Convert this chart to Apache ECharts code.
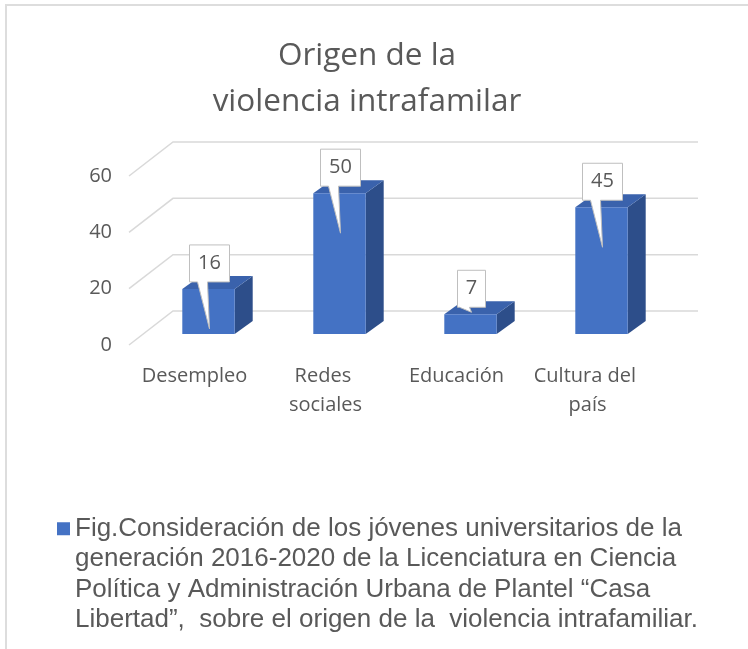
<!DOCTYPE html>
<html>
<head>
<meta charset="utf-8">
<script src="https://cdn.jsdelivr.net/npm/echarts@6/dist/echarts.min.js"></script>
<style>
html, body { margin: 0; padding: 0; background: #fff; }
#chart { width: 748px; height: 649px; }
</style>
</head>
<body>
<div id="chart"></div>
<script>
// datos del grafico
var categories = ['Desempleo', 'Redes sociales', 'Educación', 'Cultura del país'];
var values = [16, 50, 7, 45];
var yTicks = [0, 20, 40, 60];
var legendLines = [
    'Fig.Consideración de los jóvenes universitarios de la',
    'generación 2016-2020 de la Licenciatura en Ciencia',
    'Política y Administración Urbana de Plantel “Casa',
    'Libertad”,  sobre el origen de la  violencia intrafamiliar.'
];
var seriesName = legendLines.join(' ');

var frontColor = '#4472C4', topColor = '#3A62AC', sideColor = '#2D4E8A';
var textColor = '#595959';

var chart = echarts.init(document.getElementById('chart'));

// lineas de la cuadricula en perspectiva
function renderGrid(params, api) {
    var y = api.coord([0, api.value(1)])[1];
    var x0 = params.coordSys.x, x1 = x0 + params.coordSys.width;
    return {
        type: 'polyline',
        shape: { points: [[x0 - 14, y + 11], [x0 + 30, y - 23], [x1 + 31, y - 23]] },
        style: { stroke: '#d9d9d9', lineWidth: 1.5, fill: null }
    };
}

// barras 3D con etiqueta tipo globo
function renderBar(params, api) {
    var v = api.value(1);
    var top = api.coord([api.value(0), v]);
    var base = api.coord([api.value(0), 0]);
    var w = api.size([1, 0])[0] * 0.4;
    var l = top[0] - w / 2, r = top[0] + w / 2, t = top[1], b = base[1];
    var dx = 18, dy = -13;
    var label = String(v);
    var bw = label.length > 1 ? 40 : 28, bh = 37;
    var cx = top[0] + 1;
    var bb = t - 7, bt = bb - bh;
    var tip = (b - t) > 30 ? t + 40 : t - 2;
    return {
        type: 'group',
        children: [
            { type: 'polygon', shape: { points: [[r, t], [r + dx, t + dy], [r + dx, b + dy], [r, b]] }, style: { fill: sideColor } },
            { type: 'polygon', shape: { points: [[l, t], [l + dx, t + dy], [r + dx, t + dy], [r, t]] }, style: { fill: topColor } },
            { type: 'rect', shape: { x: l, y: t, width: w, height: b - t }, style: { fill: frontColor } },
            {
                type: 'polygon',
                shape: { points: [[cx - bw / 2, bt], [cx + bw / 2, bt], [cx + bw / 2, bb], [cx - 2, bb], [cx, tip], [cx - 12, bb], [cx - bw / 2, bb]] },
                style: { fill: '#fff', stroke: '#bfbfbf', lineWidth: 1 }
            },
            {
                type: 'text', x: cx, y: (bt + bb) / 2,
                style: { text: label, align: 'center', verticalAlign: 'middle', fontFamily: 'Open Sans', fontSize: 20, fill: textColor }
            }
        ]
    };
}

var option = {
    backgroundColor: '#fff',
    animation: false,
    title: {
        text: 'Origen de la\nviolencia intrafamilar',
        left: 367,
        top: 33,
        padding: 0,
        textAlign: 'center',
        textStyle: { fontFamily: 'Open Sans', fontSize: 31.5, fontWeight: 'normal', color: textColor, lineHeight: 46 }
    },
    legend: {
        data: [seriesName],
        left: 57,
        top: 422,
        padding: 0,
        icon: 'rect',
        itemWidth: 13,
        itemHeight: 13,
        itemGap: 0,
        selectedMode: false,
        // tres lineas vacias para que el cuadro quede junto a la primera linea
        formatter: function () { return '\n\n\n' + legendLines.join('\n'); },
        textStyle: { fontFamily: 'Liberation Sans', fontSize: 26, lineHeight: 30.5, color: textColor }
    },
    graphic: [{
        type: 'rect',
        shape: { x: 6, y: 5, width: 800, height: 700 },
        style: { fill: null, stroke: '#dddddd', lineWidth: 2 },
        silent: true
    }],
    grid: { left: 143, right: 81, top: 165, bottom: 315 },
    xAxis: {
        type: 'category',
        data: categories,
        axisLine: { show: false },
        axisTick: { show: false },
        axisLabel: {
            interval: 0,
            margin: 28,
            fontFamily: 'Open Sans',
            fontSize: 20,
            lineHeight: 29,
            color: textColor,
            width: 118,
            overflow: 'break',
            padding: [0, 28, 0, 0]
        }
    },
    yAxis: {
        type: 'value',
        min: 0,
        max: 60,
        interval: 20,
        axisLine: { show: false },
        axisTick: { show: false },
        splitLine: { show: false },
        axisLabel: {
            margin: 31,
            fontFamily: 'Open Sans',
            fontSize: 20,
            color: textColor,
            verticalAlign: 'top',
            lineHeight: 22
        }
    },
    series: [
        {
            type: 'custom',
            name: 'grid',
            renderItem: renderGrid,
            clip: false,
            silent: true,
            z: 1,
            data: yTicks.map(function (t) { return [0, t]; })
        },
        {
            type: 'custom',
            name: seriesName,
            renderItem: renderBar,
            clip: false,
            z: 3,
            itemStyle: { color: frontColor },
            data: values.map(function (v, i) { return [i, v]; })
        }
    ]
};

chart.setOption(option);
</script>
</body>
</html>
